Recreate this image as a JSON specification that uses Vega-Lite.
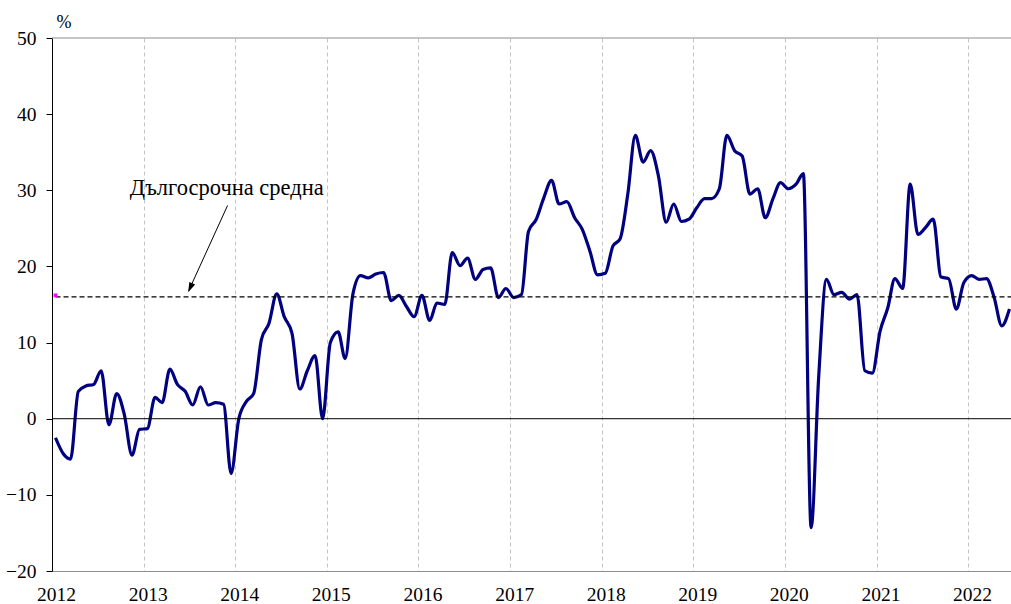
{
  "$schema": "https://vega.github.io/schema/vega-lite/v6.json",
  "width": 959,
  "height": 533,
  "autosize": {"type": "none"},
  "padding": {"left": 52, "top": 38, "right": 0, "bottom": 33},
  "background": "white",
  "config": {"view": {"stroke": null}, "font": "Liberation Serif", "axis": {"labelFont": "Liberation Serif", "titleFont": "Liberation Serif"}, "text": {"font": "Liberation Serif"}},
  "datasets": {
    "series": [
      {"date":"2012-01-15","v":-2.5},{"date":"2012-02-15","v":-4.6},{"date":"2012-03-15","v":-5.3},{"date":"2012-04-15","v":3.6},{"date":"2012-05-15","v":4.3},{"date":"2012-06-15","v":4.5},{"date":"2012-07-15","v":6.3},{"date":"2012-08-15","v":-0.8},{"date":"2012-09-15","v":3.3},{"date":"2012-10-15","v":0.6},{"date":"2012-11-15","v":-4.8},{"date":"2012-12-15","v":-1.4},
      {"date":"2013-01-15","v":-1.3},{"date":"2013-02-15","v":2.8},{"date":"2013-03-15","v":2.1},{"date":"2013-04-15","v":6.5},{"date":"2013-05-15","v":4.5},{"date":"2013-06-15","v":3.6},{"date":"2013-07-15","v":1.8},{"date":"2013-08-15","v":4.2},{"date":"2013-09-15","v":1.8},{"date":"2013-10-15","v":2.1},{"date":"2013-11-15","v":1.9},{"date":"2013-12-15","v":-7.2},
      {"date":"2014-01-15","v":0.0},{"date":"2014-02-15","v":2.3},{"date":"2014-03-15","v":3.3},{"date":"2014-04-15","v":10.4},{"date":"2014-05-15","v":12.5},{"date":"2014-06-15","v":16.4},{"date":"2014-07-15","v":13.4},{"date":"2014-08-15","v":11.2},{"date":"2014-09-15","v":3.9},{"date":"2014-10-15","v":6.3},{"date":"2014-11-15","v":8.3},{"date":"2014-12-15","v":0.0},
      {"date":"2015-01-15","v":10.0},{"date":"2015-02-15","v":11.4},{"date":"2015-03-15","v":7.9},{"date":"2015-04-15","v":16.4},{"date":"2015-05-15","v":18.8},{"date":"2015-06-15","v":18.5},{"date":"2015-07-15","v":19.0},{"date":"2015-08-15","v":19.2},{"date":"2015-09-15","v":15.5},{"date":"2015-10-15","v":16.2},{"date":"2015-11-15","v":14.7},{"date":"2015-12-15","v":13.4},
      {"date":"2016-01-15","v":16.2},{"date":"2016-02-15","v":12.9},{"date":"2016-03-15","v":15.2},{"date":"2016-04-15","v":15.0},{"date":"2016-05-15","v":21.8},{"date":"2016-06-15","v":20.1},{"date":"2016-07-15","v":21.1},{"date":"2016-08-15","v":18.3},{"date":"2016-09-15","v":19.6},{"date":"2016-10-15","v":19.8},{"date":"2016-11-15","v":15.9},{"date":"2016-12-15","v":17.1},
      {"date":"2017-01-15","v":15.9},{"date":"2017-02-15","v":16.3},{"date":"2017-03-15","v":24.6},{"date":"2017-04-15","v":26.2},{"date":"2017-05-15","v":29.0},{"date":"2017-06-15","v":31.3},{"date":"2017-07-15","v":28.2},{"date":"2017-08-15","v":28.5},{"date":"2017-09-15","v":26.4},{"date":"2017-10-15","v":24.9},{"date":"2017-11-15","v":22.0},{"date":"2017-12-15","v":18.9},
      {"date":"2018-01-15","v":19.1},{"date":"2018-02-15","v":22.7},{"date":"2018-03-15","v":23.6},{"date":"2018-04-15","v":29.5},{"date":"2018-05-15","v":37.2},{"date":"2018-06-15","v":33.7},{"date":"2018-07-15","v":35.2},{"date":"2018-08-15","v":31.9},{"date":"2018-09-15","v":25.8},{"date":"2018-10-15","v":28.2},{"date":"2018-11-15","v":25.9},{"date":"2018-12-15","v":26.2},
      {"date":"2019-01-15","v":27.7},{"date":"2019-02-15","v":28.9},{"date":"2019-03-15","v":28.9},{"date":"2019-04-15","v":30.2},{"date":"2019-05-15","v":37.2},{"date":"2019-06-15","v":35.2},{"date":"2019-07-15","v":34.5},{"date":"2019-08-15","v":29.5},{"date":"2019-09-15","v":30.2},{"date":"2019-10-15","v":26.4},{"date":"2019-11-15","v":28.9},{"date":"2019-12-15","v":31.0},
      {"date":"2020-01-15","v":30.2},{"date":"2020-02-15","v":30.8},{"date":"2020-03-15","v":32.2},{"date":"2020-04-15","v":-14.3},{"date":"2020-05-15","v":5.4},{"date":"2020-06-15","v":18.3},{"date":"2020-07-15","v":16.3},{"date":"2020-08-15","v":16.6},{"date":"2020-09-15","v":15.7},{"date":"2020-10-15","v":16.3},{"date":"2020-11-15","v":6.3},{"date":"2020-12-15","v":6.0},
      {"date":"2021-01-15","v":11.5},{"date":"2021-02-15","v":14.6},{"date":"2021-03-15","v":18.4},{"date":"2021-04-15","v":17.1},{"date":"2021-05-15","v":30.8},{"date":"2021-06-15","v":24.2},{"date":"2021-07-15","v":25.1},{"date":"2021-08-15","v":26.2},{"date":"2021-09-15","v":18.6},{"date":"2021-10-15","v":18.4},{"date":"2021-11-15","v":14.4},{"date":"2021-12-15","v":17.9},
      {"date":"2022-01-15","v":18.8},{"date":"2022-02-15","v":18.3},{"date":"2022-03-15","v":18.4},{"date":"2022-04-15","v":15.9},{"date":"2022-05-15","v":12.2},{"date":"2022-06-15","v":14.4}
    ]
  },
  "layer": [
    {
      "data": {"name": "series"},
      "mark": {"type": "line", "interpolate": "monotone", "color": "#000080", "strokeWidth": 3.2},
      "encoding": {
        "x": {
          "field": "date", "type": "temporal",
          "scale": {"type": "utc", "domain": [{"year": 2012, "month": 1, "date": 1, "utc": true}, {"year": 2022, "month": 6, "date": 21, "utc": true}]},
          "axis": {
            "title": null, "format": "%Y", "tickCount": {"interval": "year", "step": 1},
            "grid": true, "gridColor": "#c4c4c4", "gridDash": [4, 3], "gridWidth": 1,
            "ticks": false, "domainColor": "#8c8c8c", "domainWidth": 1,
            "labelFont": "Liberation Serif", "labelFontSize": 19.5, "labelColor": "black",
            "labelPadding": 14, "labelOffset": 4, "labelFlush": false, "labelOverlap": false
          }
        },
        "y": {
          "field": "v", "type": "quantitative",
          "scale": {"domain": [-20, 50], "nice": false, "zero": false},
          "axis": {
            "title": "%", "titleAngle": 0, "titleAlign": "left", "titleBaseline": "alphabetic",
            "titleX": 4, "titleY": -11, "titleFont": "Liberation Serif", "titleFontSize": 18,
            "titleFontWeight": "normal", "titleColor": "black",
            "values": [-20, -10, 0, 10, 20, 30, 40, 50],
            "grid": false, "domainColor": "black", "domainWidth": 1, "tickColor": "black", "tickSize": 6,
            "labelFont": "Liberation Serif", "labelFontSize": 19.5, "labelColor": "black",
            "labelPadding": 10, "labelFlush": false, "labelOverlap": false
          }
        }
      }
    },
    {
      "data": {"values": [{"v": 50}]},
      "mark": {"type": "rule", "color": "#8c8c8c", "strokeWidth": 1},
      "encoding": {
        "y": {"field": "v", "type": "quantitative", "scale": {"domain": [-20, 50], "nice": false, "zero": false}}
      }
    },
    {
      "data": {"values": [{"v": 0}]},
      "mark": {"type": "rule", "color": "black", "strokeWidth": 1},
      "encoding": {
        "y": {"field": "v", "type": "quantitative", "scale": {"domain": [-20, 50], "nice": false, "zero": false}}
      }
    },
    {
      "data": {"values": [{"date": "2012-01-15", "date2": "2022-06-21", "v": 16}]},
      "mark": {"type": "rule", "color": "black", "strokeWidth": 1.2, "strokeDash": [5, 3]},
      "encoding": {
        "x": {"field": "date", "type": "temporal", "scale": {"type": "utc", "domain": [{"year": 2012, "month": 1, "date": 1, "utc": true}, {"year": 2022, "month": 6, "date": 21, "utc": true}]}},
        "x2": {"field": "date2"},
        "y": {"field": "v", "type": "quantitative", "scale": {"domain": [-20, 50], "nice": false, "zero": false}}
      }
    },
    {
      "data": {"values": [{"date": "2012-01-15", "v": 16.2}]},
      "mark": {"type": "square", "color": "#ff00ff", "size": 14, "opacity": 1, "filled": true},
      "encoding": {
        "x": {"field": "date", "type": "temporal", "scale": {"type": "utc", "domain": [{"year": 2012, "month": 1, "date": 1, "utc": true}, {"year": 2022, "month": 6, "date": 21, "utc": true}]}},
        "y": {"field": "v", "type": "quantitative", "scale": {"domain": [-20, 50], "nice": false, "zero": false}}
      }
    },
    {
      "data": {"values": [{"date": "2013-12-01", "v": 28.0, "date2": "2013-06-29", "v2": 16.8}]},
      "mark": {"type": "rule", "color": "black", "strokeWidth": 1},
      "encoding": {
        "x": {"field": "date", "type": "temporal", "scale": {"type": "utc", "domain": [{"year": 2012, "month": 1, "date": 1, "utc": true}, {"year": 2022, "month": 6, "date": 21, "utc": true}]}},
        "x2": {"field": "date2"},
        "y": {"field": "v", "type": "quantitative", "scale": {"domain": [-20, 50], "nice": false, "zero": false}},
        "y2": {"field": "v2"}
      }
    },
    {
      "data": {"values": [{"date": "2013-06-27", "v": 16.6}]},
      "mark": {"type": "point", "shape": "M0,0L-0.8,2.5L0.8,2.5Z", "angle": 204, "size": 64, "filled": true, "color": "black", "opacity": 1, "strokeWidth": 0},
      "encoding": {
        "x": {"field": "date", "type": "temporal", "scale": {"type": "utc", "domain": [{"year": 2012, "month": 1, "date": 1, "utc": true}, {"year": 2022, "month": 6, "date": 21, "utc": true}]}},
        "y": {"field": "v", "type": "quantitative", "scale": {"domain": [-20, 50], "nice": false, "zero": false}}
      }
    },
    {
      "data": {"values": [{"date": "2013-11-28", "v": 30.3, "label": "Дългосрочна средна"}]},
      "mark": {"type": "text", "font": "Liberation Serif", "fontSize": 22.5, "color": "black", "align": "center", "baseline": "middle"},
      "encoding": {
        "x": {"field": "date", "type": "temporal", "scale": {"type": "utc", "domain": [{"year": 2012, "month": 1, "date": 1, "utc": true}, {"year": 2022, "month": 6, "date": 21, "utc": true}]}},
        "y": {"field": "v", "type": "quantitative", "scale": {"domain": [-20, 50], "nice": false, "zero": false}},
        "text": {"field": "label"}
      }
    }
  ]
}
